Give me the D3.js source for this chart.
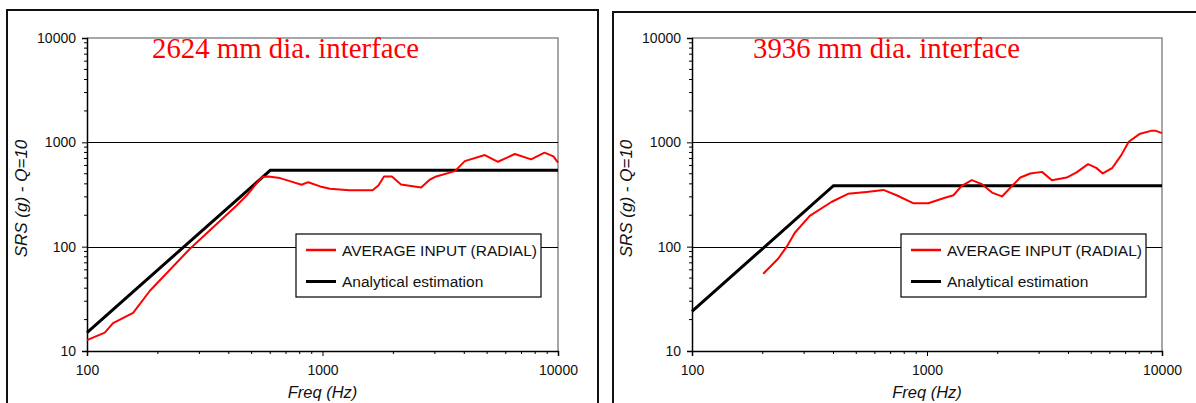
<!DOCTYPE html>
<html>
<head>
<meta charset="utf-8">
<script src="https://cdn.jsdelivr.net/npm/d3@7"></script>
<style>
  body { margin: 0; background: #fff; }
  svg { display: block; }
</style>
</head>
<body>
<div id="chart"></div>
<script>
// ---- data ----
const titles = ["2624 mm dia. interface", "3936 mm dia. interface"];
const legendNames = ["AVERAGE INPUT (RADIAL)", "Analytical estimation"];
const xTicks = [100, 1000, 10000];
const yTicks = [10, 100, 1000, 10000];

// panel 1 (2624 mm)
const freq1 = [100, 119, 129, 157, 185, 273, 432, 476, 552, 588, 660, 727, 814, 870, 977, 1076, 1300, 1632, 1727, 1825, 1970, 2155, 2625, 2850, 3040, 3650, 4020, 4890, 5560, 6560, 7690, 8760, 9560, 10000];
const srs1 = [12.7, 15, 18.5, 23.2, 37.8, 95, 248, 309, 464, 471, 454, 425, 392, 415, 378, 359, 348, 348, 386, 471, 471, 395, 369, 438, 471, 530, 661, 755, 651, 773, 687, 796, 733, 638];
const estFreq1 = [100, 600, 10000];
const estSrs1 = [15, 540, 540];

// panel 2 (3936 mm)
const freq2 = [201, 233, 253, 274, 317, 392, 461, 553, 652, 742, 873, 1012, 1174, 1296, 1405, 1551, 1713, 1891, 2085, 2302, 2496, 2752, 3085, 3400, 3930, 4330, 4845, 5250, 5600, 6130, 6700, 7220, 8010, 8970, 9420, 10000];
const srs2 = [55, 77, 100, 136, 197, 268, 321, 335, 350, 311, 261, 261, 291, 311, 383, 434, 397, 330, 303, 383, 460, 503, 521, 434, 460, 515, 618, 569, 503, 565, 750, 1012, 1200, 1288, 1288, 1225];
const estFreq2 = [100, 400, 10000];
const estSrs2 = [24, 384, 384];

const W = 1196, H = 403;
const svg = d3.select("#chart").append("svg").attr("width", W).attr("height", H);

const panels = [
  { frame: [7, 10, 591, 420], x0: 87, x1: 558, titleX: 152, title: titles[0],
    red: d3.zip(freq1, srs1), black: d3.zip(estFreq1, estSrs1) },
  { frame: [613, 12, 620, 420], x0: 692, x1: 1162, titleX: 753, title: titles[1],
    red: d3.zip(freq2, srs2), black: d3.zip(estFreq2, estSrs2) }
];
const yTop = 38, yBot = 351;

function drawPanel(p) {
  const g = svg.append("g");
  g.append("rect")
    .attr("x", p.frame[0]).attr("y", p.frame[1])
    .attr("width", p.frame[2]).attr("height", p.frame[3])
    .attr("fill", "none").attr("stroke", "#111").attr("stroke-width", 2);

  const x = d3.scaleLog().domain([100, 10000]).range([p.x0, p.x1]);
  const y = d3.scaleLog().domain([10, 10000]).range([yBot, yTop]);

  // plot frame (top/right gray)
  g.append("path")
    .attr("d", `M${p.x0},${yTop}H${p.x1}V${yBot}`)
    .attr("fill", "none").attr("stroke", "#8a8a8a").attr("stroke-width", 1.5);

  // horizontal gridlines
  g.selectAll(".grid").data([100, 1000]).join("line")
    .attr("x1", p.x0).attr("x2", p.x1)
    .attr("y1", d => Math.round(y(d)) + 0.5).attr("y2", d => Math.round(y(d)) + 0.5)
    .attr("stroke", "#000").attr("stroke-width", 1);

  // minor ticks
  const minors = d3.range(1, 4).flatMap(e => d3.range(2, 10).map(m => m * Math.pow(10, e)));
  const xMinors = d3.range(2, 4).flatMap(e => d3.range(2, 10).map(m => m * Math.pow(10, e)));

  // y axis
  const yAxis = g.append("g").attr("transform", `translate(${p.x0},0)`)
    .call(d3.axisLeft(y).tickValues(yTicks).tickFormat(d3.format("d")).tickSize(5).tickPadding(6));
  yAxis.select(".domain").attr("stroke-width", 1.5);
  yAxis.selectAll("text").attr("font-family", "Liberation Sans, Arial, sans-serif").attr("font-size", 14).attr("fill", "#111");
  yAxis.selectAll(".minor").data(minors).join("line").attr("class", "minor")
    .attr("x1", -3).attr("x2", 0).attr("y1", d => y(d)).attr("y2", d => y(d))
    .attr("stroke", "#000");

  // x axis
  const xAxis = g.append("g").attr("transform", `translate(0,${yBot})`)
    .call(d3.axisBottom(x).tickValues(xTicks).tickFormat(d3.format("d")).tickSize(5).tickPadding(9));
  xAxis.select(".domain").attr("stroke-width", 1.5);
  xAxis.selectAll("text").attr("font-family", "Liberation Sans, Arial, sans-serif").attr("font-size", 14).attr("fill", "#111");
  xAxis.selectAll(".minor").data(xMinors).join("line").attr("class", "minor")
    .attr("x1", d => x(d)).attr("x2", d => x(d)).attr("y1", 0).attr("y2", 3)
    .attr("stroke", "#000");

  // axis titles
  g.append("text")
    .attr("transform", `translate(${p.x0 - 60},${(yTop + yBot) / 2 + 4}) rotate(-90)`)
    .attr("text-anchor", "middle")
    .attr("font-family", "Liberation Sans, Arial, sans-serif").attr("font-size", 17)
    .attr("font-style", "italic").attr("fill", "#111")
    .text("SRS (g) - Q=10");
  g.append("text")
    .attr("x", (p.x0 + p.x1) / 2).attr("y", 398)
    .attr("text-anchor", "middle")
    .attr("font-family", "Liberation Sans, Arial, sans-serif").attr("font-size", 16.5)
    .attr("font-style", "italic").attr("fill", "#111")
    .text("Freq (Hz)");

  // lines
  const line = d3.line().x(d => x(d[0])).y(d => y(d[1]));
  g.append("path").datum(p.black).attr("d", line)
    .attr("fill", "none").attr("stroke", "#000").attr("stroke-width", 3);
  g.append("path").datum(p.red).attr("d", line)
    .attr("fill", "none").attr("stroke", "#ff0000").attr("stroke-width", 2).attr("stroke-linejoin", "round");

  // title
  g.append("text")
    .attr("x", p.titleX).attr("y", 58)
    .attr("font-family", "Liberation Serif, Times New Roman, serif").attr("font-size", 28.8)
    .attr("fill", "#ff0000")
    .text(p.title);

  // legend
  const lg = g.append("g").attr("transform", `translate(${p.x0 + 209},234)`);
  lg.append("rect").attr("width", 245).attr("height", 63)
    .attr("fill", "#fff").attr("stroke", "#000").attr("stroke-width", 1.2);
  const colors = ["#ff0000", "#000"];
  legendNames.forEach((name, i) => {
    const yy = 16 + i * 31.5;
    lg.append("line").attr("x1", 10).attr("x2", 40).attr("y1", yy).attr("y2", yy)
      .attr("stroke", colors[i]).attr("stroke-width", i ? 3 : 2.5);
    lg.append("text").attr("x", 46).attr("y", yy + 5.5)
      .attr("font-family", "Liberation Sans, Arial, sans-serif").attr("font-size", 15.5)
      .attr("fill", "#111").text(name);
  });
}

panels.forEach(drawPanel);
</script>
</body>
</html>
